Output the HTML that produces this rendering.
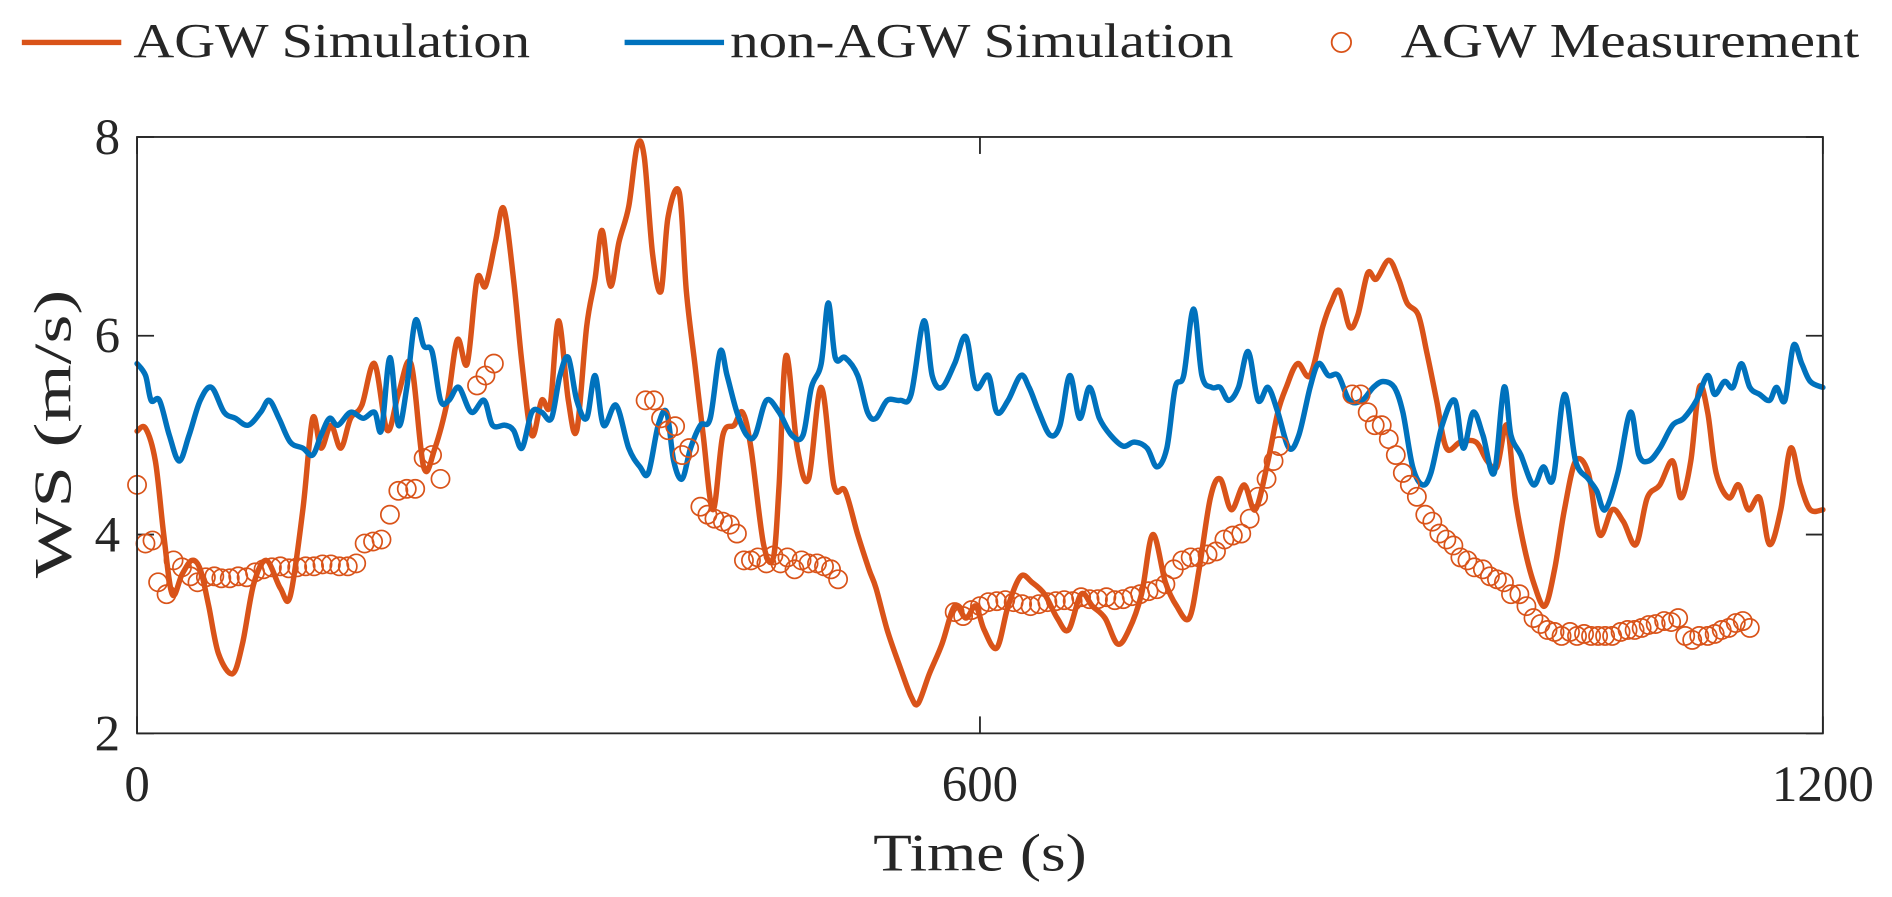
<!DOCTYPE html>
<html><head><meta charset="utf-8"><style>
html,body{margin:0;padding:0;background:#fff;width:1892px;height:897px;overflow:hidden}
svg{display:block;font-family:"Liberation Serif",serif}
</style></head><body>
<svg id="chart" width="1892" height="897" viewBox="0 0 1560 740" preserveAspectRatio="none" xmlns="http://www.w3.org/2000/svg">
<g>
 <line x1="18" y1="35" x2="100" y2="35" stroke="#D95319" stroke-width="4.5"/>
 <text x="110" y="47" font-size="40" textLength="327" lengthAdjust="spacingAndGlyphs" fill="#262626">AGW Simulation</text>
 <line x1="515" y1="35" x2="597" y2="35" stroke="#0072BD" stroke-width="4.5"/>
 <text x="602" y="47" font-size="40" textLength="415" lengthAdjust="spacingAndGlyphs" fill="#262626">non-AGW Simulation</text>
 <circle cx="1106" cy="35" r="8" fill="none" stroke="#D95319" stroke-width="1.5"/>
 <text x="1155" y="47" font-size="40" textLength="378" lengthAdjust="spacingAndGlyphs" fill="#262626">AGW Measurement</text>
</g>
<g id="axes"></g>
<g id="series"></g>
<rect x="113" y="113" width="1390" height="492" fill="none" stroke="#262626" stroke-width="1.5"/>
<text x="808" y="718" font-size="44" text-anchor="middle" textLength="176" lengthAdjust="spacingAndGlyphs" fill="#262626">Time (s)</text>
<text transform="translate(58,358) rotate(-90)" font-size="44" text-anchor="middle" textLength="238" lengthAdjust="spacingAndGlyphs" fill="#262626">WS (m/s)</text>
</svg>
<script>
const xTicks=[0,600,1200];
const yTicks=[2,4,6,8];
const simTime=[0,6,13,19,25,32,39,45,51,58,68,75,83,92,102,109,118,125,131,138,145,152,160,169,178,186,195,204,212,221,228,235,242,248,255,261,268,274,281,288,294,300,307,313,320,326,331,337,343,350,356,361,367,373,378,386,391,397,403,410,417,425,431,437,446,453,457,462,470,478,487,496,504,513,521,526,534,543,551,556,564,573,582,590,597,603,612,620,629,637,646,655,663,672,680,689,698,706,715,723,732,740,749,756,764,771,779,788,796,805,812,818,826,835,844,850,856,863,869,876,882,891,898,904,912,918,925,932,942,953,961,968,975,981,987,994,1002,1009,1016,1024,1033,1041,1050,1058,1067,1075,1084,1093,1099,1106,1112,1118,1124,1133,1140,1147,1155,1162,1170,1177,1184,1191,1200];
const agwSim=[5.04,5.07,4.74,4.0,3.4,3.6,3.74,3.65,3.28,2.8,2.6,2.9,3.5,3.74,3.46,3.38,4.25,5.17,4.87,5.1,4.87,5.17,5.3,5.72,5.05,5.41,5.72,4.68,4.87,5.35,5.96,5.72,6.57,6.5,6.94,7.28,6.57,5.72,5.0,5.35,5.3,6.15,5.35,5.05,6.09,6.57,7.06,6.5,6.94,7.3,7.91,7.8,6.82,6.45,7.2,7.44,6.45,5.72,5.0,4.25,5.0,5.1,5.23,4.87,3.9,3.77,4.5,5.8,4.87,4.56,5.48,4.5,4.44,4.0,3.65,3.46,3.04,2.67,2.37,2.3,2.6,2.9,3.28,3.16,3.28,3.04,2.86,3.28,3.58,3.52,3.4,3.16,3.04,3.4,3.28,3.16,2.9,3.04,3.4,4.0,3.52,3.28,3.16,3.65,4.37,4.56,4.25,4.5,4.25,4.74,5.23,5.48,5.72,5.6,6.09,6.33,6.45,6.09,6.21,6.63,6.57,6.76,6.57,6.33,6.21,5.84,5.35,4.87,4.93,4.93,4.74,4.68,5.1,4.37,3.9,3.52,3.28,3.65,4.25,4.74,4.62,4.0,4.25,4.13,3.9,4.37,4.5,4.74,4.37,4.74,5.48,5.23,4.62,4.37,4.5,4.25,4.37,3.9,4.25,4.87,4.5,4.25,4.25];
const nonTime=[0,6,10,16,23,30,37,45,53,62,70,79,88,94,101,109,118,125,131,137,143,152,161,169,174,180,186,192,198,204,210,216,222,229,238,247,253,262,268,274,281,288,295,301,307,313,320,326,332,341,350,358,364,371,377,382,388,394,401,408,415,420,427,434,440,448,457,466,474,480,487,492,497,504,513,520,526,534,543,551,560,566,573,582,590,597,606,612,620,629,635,642,650,657,664,671,678,685,693,702,710,719,726,733,739,745,752,758,765,771,777,784,791,798,805,812,820,827,835,841,848,855,863,872,880,887,895,901,908,915,921,929,938,944,951,958,966,973,978,985,994,1001,1008,1016,1024,1033,1039,1045,1054,1063,1069,1076,1084,1093,1101,1110,1118,1123,1130,1136,1142,1148,1155,1162,1167,1173,1179,1185,1191,1200];
const nonAgwSim=[5.72,5.6,5.35,5.35,5.0,4.74,5.0,5.35,5.48,5.23,5.17,5.1,5.23,5.35,5.17,4.93,4.87,4.8,5.0,5.17,5.1,5.23,5.17,5.23,5.05,5.78,5.1,5.48,6.15,5.9,5.84,5.35,5.35,5.48,5.23,5.35,5.1,5.1,5.05,4.87,5.23,5.23,5.17,5.6,5.78,5.35,5.17,5.6,5.1,5.3,4.87,4.68,4.62,5.1,5.23,4.74,4.56,4.87,5.1,5.17,5.84,5.6,5.23,5.0,5.0,5.35,5.23,5.0,5.0,5.48,5.72,6.33,5.78,5.78,5.6,5.23,5.17,5.35,5.35,5.41,6.15,5.6,5.48,5.72,5.99,5.48,5.6,5.23,5.35,5.6,5.48,5.23,5.0,5.1,5.6,5.17,5.48,5.17,5.0,4.89,4.93,4.87,4.68,4.87,5.48,5.6,6.27,5.6,5.48,5.48,5.35,5.48,5.84,5.35,5.48,5.23,4.87,5.0,5.48,5.72,5.6,5.6,5.35,5.35,5.48,5.54,5.48,5.23,4.68,4.5,4.62,5.1,5.35,4.87,5.23,5.0,4.62,5.48,5.0,4.8,4.5,4.68,4.56,5.41,4.74,4.56,4.44,4.25,4.62,5.23,4.8,4.74,4.87,5.1,5.17,5.35,5.6,5.41,5.54,5.48,5.72,5.48,5.41,5.35,5.48,5.35,5.9,5.72,5.54,5.48];
const measTime=[0,6,11,15,21,26,32,38,43,49,55,60,66,72,78,84,90,96,102,108,114,120,126,132,138,144,150,156,162,168,174,180,186,192,198,204,210,216,242,248,254,362,368,373,378,383,388,393,401,406,411,417,422,427,432,437,442,448,453,458,463,468,473,478,484,489,494,499,582,588,594,600,606,612,618,624,630,636,642,648,654,660,666,672,678,684,690,696,702,708,714,720,726,732,738,744,750,756,762,768,774,780,786,792,798,804,809,813,865,871,876,881,886,891,896,901,906,911,917,922,927,932,937,942,947,952,958,963,968,973,978,984,989,994,999,1004,1009,1014,1020,1025,1030,1035,1040,1045,1050,1056,1061,1066,1071,1076,1081,1087,1092,1097,1102,1107,1112,1118,1123,1128,1133,1138,1143,1148];
const agwMeas=[4.5,3.91,3.94,3.52,3.4,3.74,3.67,3.58,3.52,3.57,3.58,3.56,3.56,3.58,3.57,3.62,3.65,3.67,3.68,3.66,3.67,3.68,3.68,3.7,3.7,3.68,3.68,3.71,3.91,3.93,3.95,4.2,4.44,4.46,4.46,4.77,4.8,4.56,5.5,5.6,5.72,5.35,5.35,5.17,5.05,5.09,4.8,4.87,4.28,4.2,4.16,4.13,4.1,4.01,3.74,3.74,3.77,3.71,3.79,3.71,3.77,3.65,3.74,3.71,3.71,3.68,3.65,3.55,3.22,3.18,3.24,3.28,3.32,3.33,3.34,3.32,3.3,3.28,3.3,3.32,3.33,3.34,3.33,3.37,3.35,3.35,3.37,3.34,3.35,3.38,3.4,3.43,3.45,3.5,3.65,3.74,3.77,3.77,3.8,3.83,3.95,3.99,4.01,4.16,4.38,4.56,4.74,4.89,5.41,5.41,5.23,5.1,5.1,4.96,4.8,4.62,4.5,4.38,4.2,4.13,4.01,3.95,3.89,3.77,3.74,3.67,3.65,3.58,3.55,3.52,3.4,3.4,3.28,3.16,3.1,3.04,3.02,2.98,3.02,2.98,3.0,2.98,2.98,2.98,2.98,3.02,3.04,3.04,3.06,3.09,3.1,3.13,3.12,3.16,2.98,2.94,2.98,2.98,3.0,3.04,3.06,3.11,3.13,3.06];

const NS='http://www.w3.org/2000/svg';
const X0=113,X1=1503,Y0=605,Y1=113;
function xs(t){return X0+(t-0)/(1200-0)*(X1-X0);}
function ys(v){return Y0-(v-2)/(8-2)*(Y0-Y1);}
const axes=document.getElementById('axes'),series=document.getElementById('series');
function mk(tag,attrs,parent){const e=document.createElementNS(NS,tag);for(const k in attrs)e.setAttribute(k,attrs[k]);parent.appendChild(e);return e;}
xTicks.forEach(t=>{
 const x=xs(t);
 const a=mk('line',{x1:x,y1:Y0,x2:x,y2:Y0-14,stroke:'#262626','stroke-width':1.5},axes);
 
 
 const b=mk('line',{x1:x,y1:Y1,x2:x,y2:Y1+14,stroke:'#262626','stroke-width':1.5},axes);
 
 
 const l=mk('text',{x:x,y:Y0+56,'font-size':42,'text-anchor':'middle',fill:'#262626'},axes);
 l.textContent=t;
 
 
});
yTicks.forEach(v=>{
 const y=ys(v);
 const a=mk('line',{x1:X0,y1:y,x2:X0+14,y2:y,stroke:'#262626','stroke-width':1.5},axes);
 
 
 const b=mk('line',{x1:X1,y1:y,x2:X1-14,y2:y,stroke:'#262626','stroke-width':1.5},axes);
 
 
 const l=mk('text',{x:X0-14,y:y+14,'font-size':42,'text-anchor':'end',fill:'#262626'},axes);
 l.textContent=v;
 
 
});
function line(ts,vs,color,name){
 const P=ts.map((t,i)=>[xs(t),ys(vs[i])]);
 let d='M'+P[0][0].toFixed(1)+' '+P[0][1].toFixed(1);
 for(let i=0;i<P.length-1;i++){
  const p0=P[Math.max(0,i-1)],p1=P[i],p2=P[i+1],p3=P[Math.min(P.length-1,i+2)];
  const c1x=p1[0]+(p2[0]-p0[0])/6,c1y=p1[1]+(p2[1]-p0[1])/6;
  const c2x=p2[0]-(p3[0]-p1[0])/6,c2y=p2[1]-(p3[1]-p1[1])/6;
  d+=' C'+c1x.toFixed(1)+' '+c1y.toFixed(1)+' '+c2x.toFixed(1)+' '+c2y.toFixed(1)+' '+p2[0].toFixed(1)+' '+p2[1].toFixed(1);
 }
 const p=mk('path',{d:d,fill:'none',stroke:color,'stroke-width':4.5,'stroke-linejoin':'round','stroke-linecap':'round'},series);
 
 
}
line(simTime,agwSim,'#D95319','agw-simulation-line');
line(nonTime,nonAgwSim,'#0072BD','non-agw-simulation-line');
measTime.forEach((t,i)=>{
 const c=mk('circle',{cx:xs(t),cy:ys(agwMeas[i]),r:7.5,fill:'none',stroke:'#D95319','stroke-width':1.4},series);
 
 
});
</script>
</body></html>
